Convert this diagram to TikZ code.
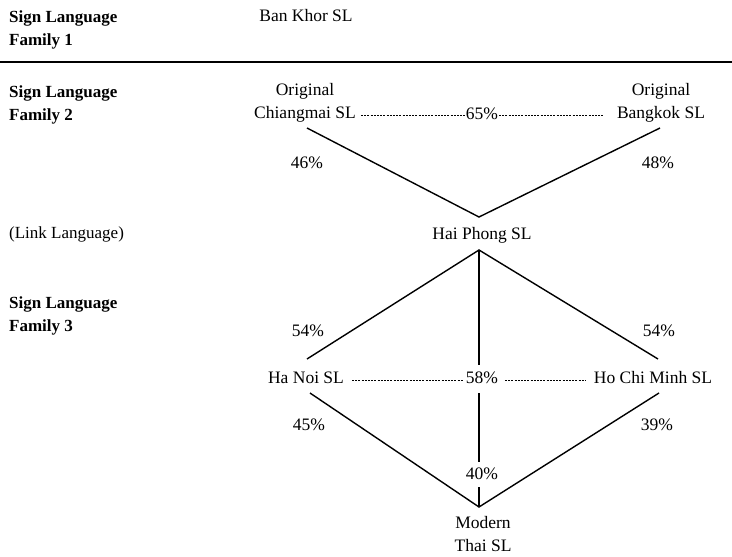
\documentclass[tikz,border=0pt]{standalone}
\usepackage{fontspec}
\setmainfont{Liberation Serif}
\begin{document}
\begin{tikzpicture}[x=1pt,y=-1pt,
  lbl/.style={inner sep=0pt,font=\fontsize{17.5}{23}\selectfont,align=center},
  side/.style={inner sep=0pt,font=\fontsize{17}{23}\selectfont\bfseries,align=left,anchor=west},
  conn/.style={line width=1.4pt},
  dots/.style={line width=0.9pt,dash pattern=on 2pt off 1.2pt}]
\useasboundingbox (0,0) rectangle (732,557);
% left column
\node[side] (f1) at (9,30) {Sign Language\\Family 1};
\node[side] (f2) at (9,105) {Sign Language\\Family 2};
\node[inner sep=0pt,font=\fontsize{17}{23}\selectfont,anchor=west] (link) at (9,234) {(Link Language)};
\node[side] (f3) at (9,316) {Sign Language\\Family 3};
% rule
\coordinate (rl) at (0,62);
\coordinate (rr) at (732,62);
\draw[line width=2.2pt] (rl) -- (rr);
% languages
\node[lbl] (bk) at (306,16) {Ban Khor SL};
\node[lbl] (cm) at (305,103) {Original\\Chiangmai SL};
\node[lbl] (bg) at (661,103) {Original\\Bangkok SL};
\node[lbl] (p65) at (482,114) {65\%};
\node[lbl] (hp) at (482,235) {Hai Phong SL};
\node[lbl] (hn) at (306,378) {Ha Noi SL};
\node[lbl] (p58) at (482,378) {58\%};
\node[lbl] (hcm) at (653,378) {Ho Chi Minh SL};
\node[lbl] (mt) at (483,534) {Modern\\Thai SL};
% percentages
\node[lbl] (p46) at (307,163) {46\%};
\node[lbl] (p48) at (658,163) {48\%};
\node[lbl] (p54a) at (308,331) {54\%};
\node[lbl] (p54b) at (659,331) {54\%};
\node[lbl] (p45) at (309,425) {45\%};
\node[lbl] (p39) at (657,425) {39\%};
\node[lbl] (p40) at (482,474) {40\%};
% connector end points
\coordinate (cmB) at (307,128);
\coordinate (bgB) at (660,128);
\coordinate (hpT) at (479,217);
\coordinate (hpB) at (479,250);
\coordinate (hnT) at (307,359);
\coordinate (hcmT) at (658,359);
\coordinate (vT) at (479,365);
\coordinate (hnB) at (310,393);
\coordinate (hcmB) at (659,393);
\coordinate (vB) at (479,393);
\coordinate (v40T) at (479,462);
\coordinate (v40B) at (479,487);
\coordinate (mtT) at (479,507);
% solid connectors
\draw[conn] (cmB) -- (hpT) -- (bgB);
\draw[conn] (hnT) -- (hpB) -- (hcmT);
\draw[conn] (hpB) -- (vT);
\draw[conn] (hnB) -- (mtT) -- (hcmB);
\draw[conn] (vB) -- (v40T);
\draw[conn] (v40B) -- (mtT);
% dotted connectors
\coordinate (d1a) at (361,115);
\coordinate (d1b) at (466,115);
\coordinate (d1c) at (499,115);
\coordinate (d1d) at (604,115);
\draw[dots] (d1a) -- (d1b);
\draw[dots] (d1c) -- (d1d);
\coordinate (d2a) at (352,380);
\coordinate (d2b) at (463,380);
\coordinate (d2c) at (505,380);
\coordinate (d2d) at (586,380);
\draw[dots] (d2a) -- (d2b);
\draw[dots] (d2c) -- (d2d);
\end{tikzpicture}
\end{document}
